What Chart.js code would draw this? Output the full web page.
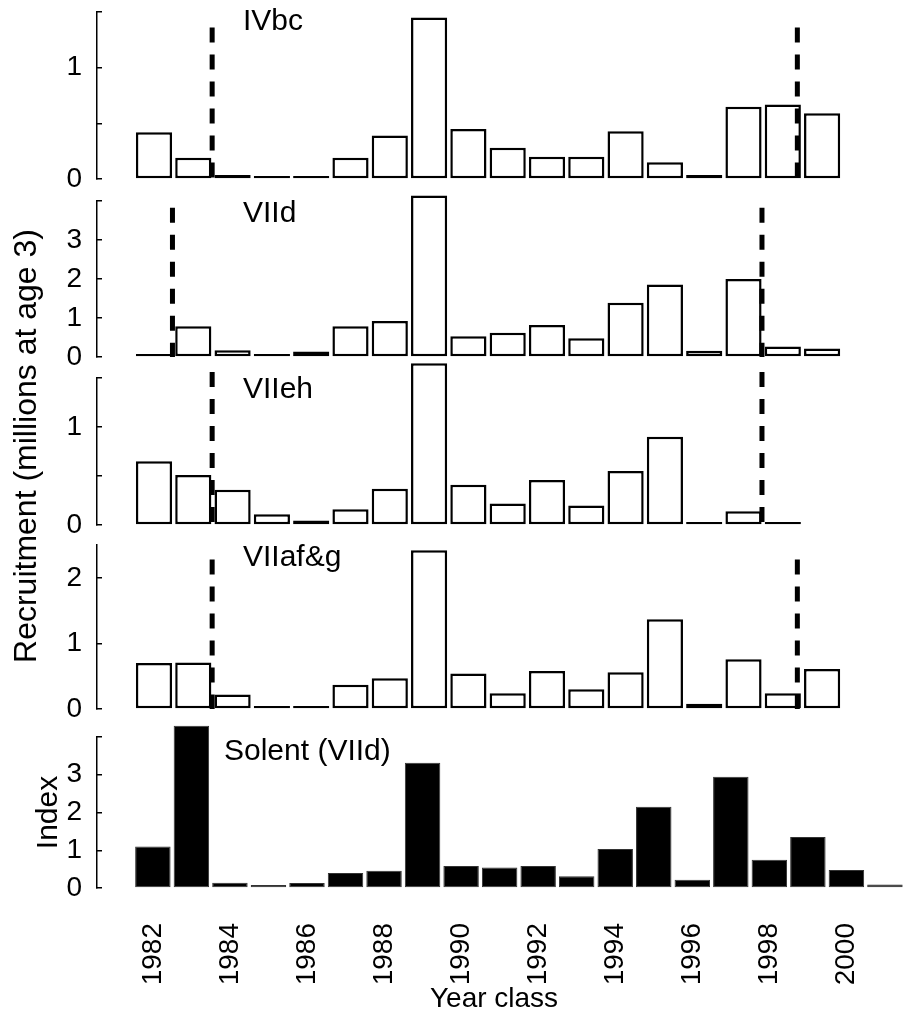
<!DOCTYPE html>
<html>
<head>
<meta charset="utf-8">
<script src="https://cdn.jsdelivr.net/npm/chart.js@4"></script>
<style>
  html, body { margin: 0; padding: 0; background: #fff; overflow: hidden; }
  .panel { position: absolute; left: 0; top: -40px; width: 907px; height: 1053px; }
</style>
</head>
<body>
<div class="panel"><canvas id="p1"></canvas></div>
<div class="panel"><canvas id="p2"></canvas></div>
<div class="panel"><canvas id="p3"></canvas></div>
<div class="panel"><canvas id="p4"></canvas></div>
<div class="panel"><canvas id="p5"></canvas></div>
<script>
// year classes, one bar each
const years = [1982, 1983, 1984, 1985, 1986, 1987, 1988, 1989, 1990, 1991,
               1992, 1993, 1994, 1995, 1996, 1997, 1998, 1999, 2000, 2001];
const yearTicks = [1982, 1984, 1986, 1988, 1990, 1992, 1994, 1996, 1998, 2000];

const ivbc   = [0.42, 0.19, 0.036, 0.013, 0.022, 0.19, 0.39, 1.45, 0.45, 0.28, 0.20, 0.20, 0.43, 0.15, 0.036, 0.65, 0.67, 0.59, null, null];
const viid   = [0.04, 0.79, 0.17, 0.06, 0.14, 0.79, 0.92, 4.14, 0.53, 0.62, 0.82, 0.48, 1.39, 1.86, 0.16, 2.0, 0.27, 0.22, null, null];
const viieh  = [0.65, 0.51, 0.36, 0.11, 0.045, 0.16, 0.37, 1.65, 0.41, 0.22, 0.46, 0.20, 0.55, 0.90, 0.025, 0.14, 0.01, null, null, null];
const viiafg = [0.70, 0.71, 0.22, 0.045, 0.03, 0.37, 0.47, 2.42, 0.54, 0.24, 0.58, 0.30, 0.56, 1.37, 0.08, 0.76, 0.24, 0.61, null, null];
const solent = [1.1, 4.3, 0.14, 0.03, 0.13, 0.40, 0.46, 3.32, 0.58, 0.54, 0.58, 0.31, 1.03, 2.15, 0.22, 2.95, 0.75, 1.35, 0.48, 0.09];

// y ticks and which of them carry a label
const ivbcTicks = [0, 0.5, 1, 1.5];          const ivbcLabels = [0, 1];
const viidTicks = [0, 1, 2, 3, 4];           const viidLabels = [0, 1, 2, 3];
const viiehTicks = [0, 0.5, 1, 1.5];         const viiehLabels = [0, 1];
const viiafgTicks = [0, 0.5, 1, 1.5, 2, 2.5]; const viiafgLabels = [0, 1, 2];
const solentTicks = [0, 1, 2, 3, 4];         const solentLabels = [0, 1, 2, 3];

// dashed cut-off lines (x position in years, height in axis units)
const ivbcCuts = [1983.48, 1998.37];   const ivbcCutTop = 1.36;
const viidCuts = [1982.47, 1997.47];   const viidCutTop = 3.83;
const viiehCuts = [1983.48, 1997.47];  const viiehCutTop = 1.56;
const viiafgCuts = [1983.48, 1998.37]; const viiafgCutTop = 2.28;

const SHIFT = 40;
const xMin = 1980.55, xMax = 2001.16;
const FONT = "'Liberation Sans', Arial, sans-serif";
Chart.defaults.font.family = FONT;
Chart.defaults.color = '#000';

function toPoints(values) {
    const pts = [];
    values.forEach((v, i) => {
        if (v !== null) pts.push({x: years[i], y: v});
    });
    return pts;
}

function textPlugin(o) {
    return {
        id: 'panelText',
        afterDatasetsDraw(chart) {
            const ctx = chart.ctx;
            const a = chart.chartArea;
            ctx.save();
            ctx.fillStyle = '#000';
            ctx.textBaseline = 'middle';
            ctx.font = '30px ' + FONT;
            ctx.fillText(o.name, a.left + o.dx, a.top + o.dy);
            if (o.bigTitle) {
                ctx.translate(27, 446 + SHIFT);
                ctx.rotate(-Math.PI / 2);
                ctx.textAlign = 'center';
                ctx.font = '32px ' + FONT;
                ctx.fillText('Recruitment (millions at age 3)', 0, 0);
            }
            ctx.restore();
        }
    };
}

function makePanel(id, o) {
    const datasets = (o.cuts || []).map(c => ({
        type: 'line',
        data: [{x: c, y: o.cutTop}, {x: c, y: 0}],
        borderColor: '#000',
        borderWidth: 5,
        borderDash: [15, 12],
        borderCapStyle: 'butt',
        pointRadius: 0,
        clip: false,
        order: 0
    }));
    datasets.push({
        type: 'bar',
        data: toPoints(o.values),
        backgroundColor: o.filled ? '#000' : '#fff',
        borderColor: o.filled ? '#333' : '#000',
        borderWidth: o.filled ? 1 : 2.5,
        borderSkipped: false,
        minBarLength: 3,
        barPercentage: 0.92,
        categoryPercentage: 1,
        clip: false,
        order: 1
    });

    return new Chart(document.getElementById(id), {
        type: 'bar',
        data: { datasets: datasets },
        options: {
            responsive: true,
            maintainAspectRatio: false,
            animation: false,
            layout: { padding: { left: 0, right: 0, top: o.top + SHIFT, bottom: o.bottom } },
            plugins: { legend: { display: false }, tooltip: { enabled: false } },
            scales: {
                x: {
                    type: 'linear',
                    min: xMin,
                    max: xMax,
                    offset: false,
                    display: !!o.xAxis,
                    grid: { display: false },
                    border: { display: false },
                    afterBuildTicks: s => { s.ticks = yearTicks.map(v => ({value: v})); },
                    afterFit: s => { if (o.xAxis) s.height = 125; },
                    ticks: {
                        padding: 27,
                        minRotation: 90,
                        maxRotation: 90,
                        autoSkip: false,
                        font: { size: 28 },
                        callback: v => String(v)
                    },
                    title: {
                        display: !!o.xAxis,
                        text: 'Year class',
                        font: { size: 28, lineHeight: 1 },
                        padding: 0
                    }
                },
                y: {
                    min: 0,
                    max: o.ticks[o.ticks.length - 1],
                    afterBuildTicks: s => { s.ticks = o.ticks.map(v => ({value: v})); },
                    afterFit: s => { s.width = 97; },
                    grid: { drawOnChartArea: false, tickLength: -5, color: '#000', lineWidth: 1.5 },
                    border: { color: '#000', width: 1.5 },
                    ticks: {
                        padding: 20,
                        font: { size: 28 },
                        callback: v => o.labels.includes(v) ? String(v) : ''
                    },
                    title: {
                        display: !!o.yTitle,
                        text: o.yTitle || '',
                        font: { size: 30 },
                        padding: { top: 31, bottom: 0 }
                    }
                }
            }
        },
        plugins: [textPlugin(o)]
    });
}

makePanel('p1', { name: 'IVbc', values: ivbc, ticks: ivbcTicks, labels: ivbcLabels,
    cuts: ivbcCuts, cutTop: ivbcCutTop, top: 12, bottom: 834, dx: 146, dy: 10 });
makePanel('p2', { name: 'VIId', values: viid, ticks: viidTicks, labels: viidLabels,
    cuts: viidCuts, cutTop: viidCutTop, top: 201, bottom: 656, dx: 146, dy: 13, bigTitle: true });
makePanel('p3', { name: 'VIIeh', values: viieh, ticks: viiehTicks, labels: viiehLabels,
    cuts: viiehCuts, cutTop: viiehCutTop, top: 378, bottom: 488, dx: 146, dy: 12 });
makePanel('p4', { name: 'VIIaf&g', values: viiafg, ticks: viiafgTicks, labels: viiafgLabels,
    cuts: viiafgCuts, cutTop: viiafgCutTop, top: 545, bottom: 304, dx: 146, dy: 13 });
makePanel('p5', { name: 'Solent (VIId)', values: solent, ticks: solentTicks, labels: solentLabels,
    filled: true, xAxis: true, yTitle: 'Index', top: 737, bottom: 0, dx: 127, dy: 15 });
</script>
</body>
</html>
